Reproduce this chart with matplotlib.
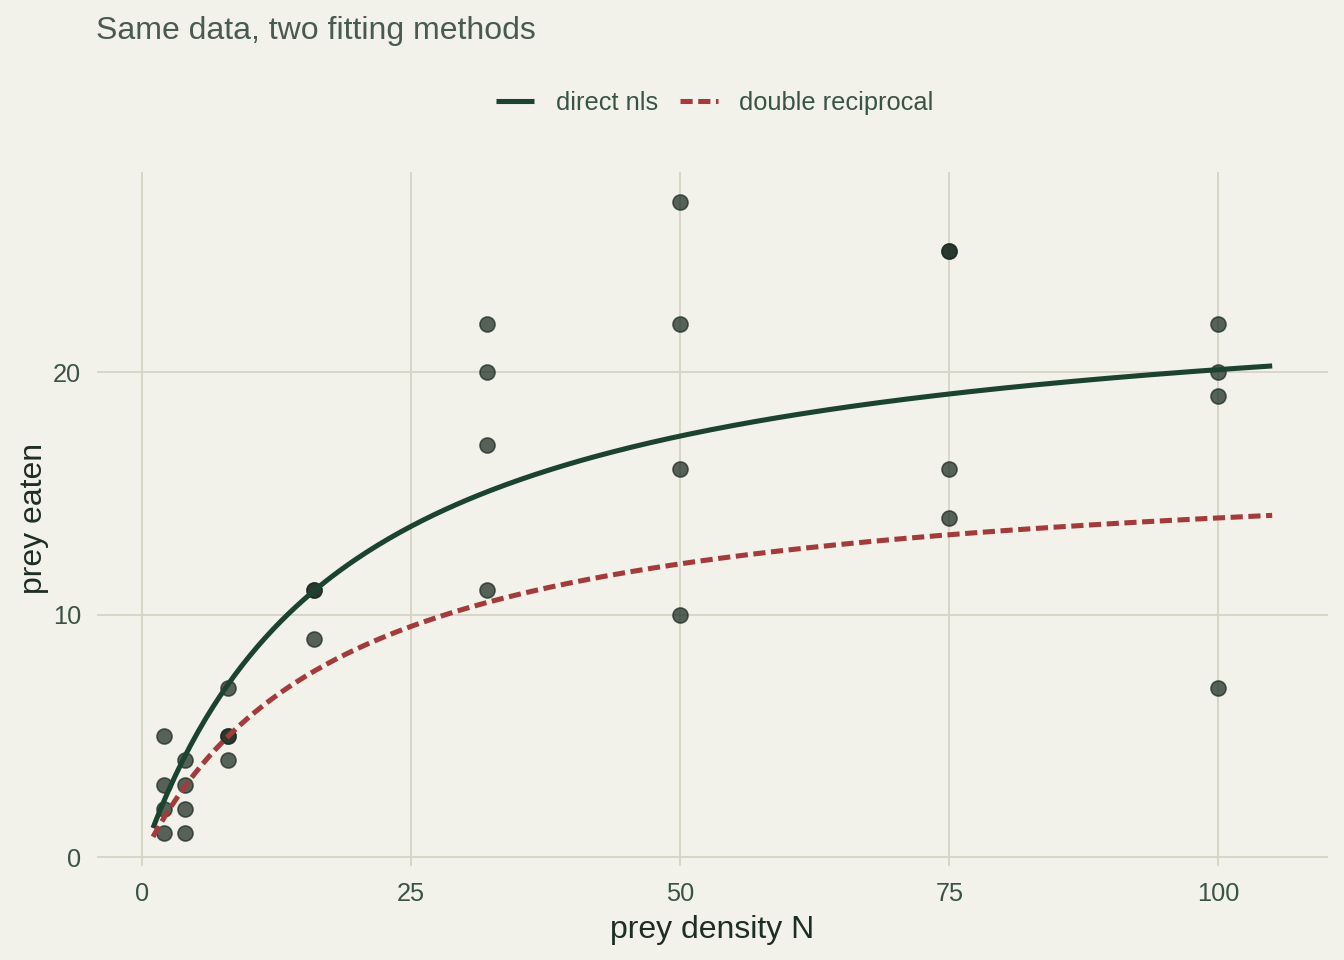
import numpy as np
import matplotlib
matplotlib.use("Agg")
import matplotlib.pyplot as plt

plt.rcParams['font.family'] = ['Liberation Sans', 'DejaVu Sans']

density = [2, 2, 2, 2, 4, 4, 4, 4, 8, 8, 8, 8,
           16, 16, 16, 32, 32, 32, 32, 50, 50, 50, 50,
           75, 75, 75, 75, 100, 100, 100, 100]
eaten = [5, 3, 2, 1, 4, 3, 2, 1, 7, 5, 5, 4,
         11, 11, 9, 22, 20, 17, 11, 27, 22, 16, 10,
         25, 25, 16, 14, 22, 20, 19, 7]

# Holling type II parameters (attack rate a, handling time h) for each fit
nls_a, nls_h = 1.2755, 0.04191
dr_a, dr_h = 0.8945, 0.0603

xticks = [0, 25, 50, 75, 100]
yticks = [0, 10, 20]

bg = '#F2F1EA'
grid_col = '#D6D5C5'
green = '#1C4230'
red = '#A33B3B'

def holling(N, a, h):
    return a * N / (1 + a * h * N)

N = np.linspace(1, 105, 300)

fig = plt.figure(figsize=(7, 5), dpi=192, facecolor=bg)
ax = fig.add_axes([0.0722, 0.098, 0.916, 0.723])
ax.set_facecolor(bg)

ax.scatter(density, eaten, s=32, color='#1A2A20', alpha=0.72,
           edgecolors='#1A2A20', linewidths=0.6, zorder=2)
ax.plot(N, holling(N, nls_a, nls_h), color=green, lw=1.9, zorder=3,
        label='direct nls', solid_capstyle='butt')
ax.plot(N, holling(N, dr_a, dr_h), color=red, lw=1.9, ls=(0, (2.4, 1.1)),
        zorder=3, label='double reciprocal')

ax.set_xlim(-4.2, 110.2)
ax.set_ylim(-0.35, 28.25)
ax.set_xticks(xticks)
ax.set_yticks(yticks)
ax.grid(True, color=grid_col, lw=0.7)
ax.set_axisbelow(True)
for s in ax.spines.values():
    s.set_visible(False)
ax.tick_params(length=0, labelsize=9.5, labelcolor='#3A5444', pad=6)

ax.set_xlabel('prey density N', fontsize=12, color='#1E2E25', labelpad=3.5)
ax.set_ylabel('prey eaten', fontsize=12, color='#1E2E25', labelpad=1.5)

fig.text(0.0715, 0.968, 'Same data, two fitting methods', fontsize=12,
         color='#4A5A4F', ha='left', va='center')

leg = fig.legend(loc='center', bbox_to_anchor=(0.532, 0.893), ncol=2,
                 frameon=False, fontsize=9.5, handlelength=1.5,
                 columnspacing=0.85, handletextpad=0.85)
for t in leg.get_texts():
    t.set_color('#3A5444')

fig.savefig('out.png', dpi=192, facecolor=bg)
